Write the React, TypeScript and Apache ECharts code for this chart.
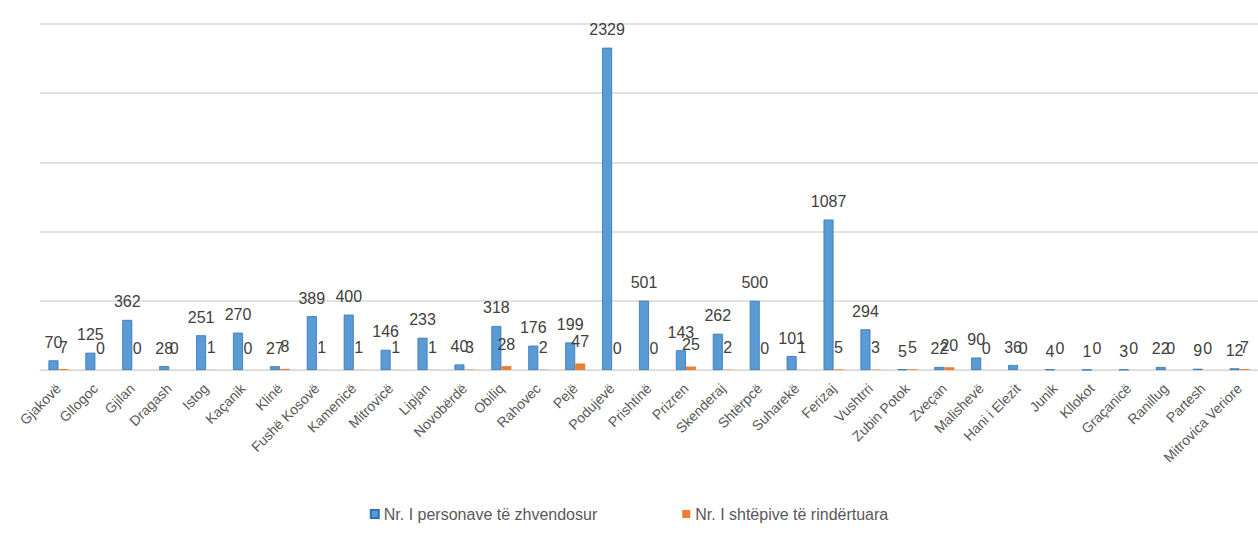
import React, { useEffect, useRef } from "react";
import * as echarts from "echarts";

const categories = [
  "Gjakovë", "Gllogoc", "Gjilan", "Dragash", "Istog", "Kaçanik", "Klinë",
  "Fushë Kosovë", "Kamenicë", "Mitrovicë", "Lipjan", "Novobërdë", "Obiliq",
  "Rahovec", "Pejë", "Podujevë", "Prishtinë", "Prizren", "Skenderaj",
  "Shtërpcë", "Suharekë", "Ferizaj", "Vushtrri", "Zubin Potok", "Zveçan",
  "Malishevë", "Hani i Elezit", "Junik", "Kllokot", "Graçanicë", "Ranillug",
  "Partesh", "Mitrovica Veriore",
];

const displaced = [
  70, 125, 362, 28, 251, 270, 27, 389, 400, 146, 233, 40, 318, 176, 199,
  2329, 501, 143, 262, 500, 101, 1087, 294, 5, 22, 90, 36, 4, 1, 3, 22, 9, 12,
];

const rebuilt = [
  7, 0, 0, 0, 1, 0, 8, 1, 1, 1, 1, 3, 28, 2, 47, 0, 0, 25, 2, 0, 1, 5, 3, 5,
  20, 0, 0, 0, 0, 0, 0, 0, 7,
];

const seriesNames = ["Nr. I personave të zhvendosur", "Nr. I shtëpive të rindërtuara"];

const yTicks = [0, 500, 1000, 1500, 2000, 2500];

export default function App() {
  const ref = useRef<HTMLDivElement>(null);
  useEffect(() => {
    if (!ref.current) return;
    const chart = echarts.init(ref.current, undefined, { renderer: "svg" });
    const font = "'Liberation Sans', Arial, sans-serif";
    chart.setOption({
      animation: false,
      backgroundColor: "#ffffff",
      textStyle: { fontFamily: font },
      legend: {
        bottom: 23,
        left: "center",
        itemWidth: 8,
        itemHeight: 8,
        itemGap: 85,
        icon: "rect",
        textStyle: { color: "#595959", fontSize: 16, fontFamily: font },
        data: seriesNames,
      },
      grid: { left: 40, width: 1226, top: 24, bottom: 180, containLabel: false },
      xAxis: {
        type: "category",
        data: categories,
        axisTick: { show: false },
        axisLine: { show: true, lineStyle: { color: "#d9d9d9", width: 1 } },
        axisLabel: {
          rotate: 45,
          interval: 0,
          color: "#595959",
          fontSize: 14,
          fontFamily: font,
          margin: 16,
        },
      },
      yAxis: {
        type: "value",
        min: yTicks[0],
        max: yTicks[yTicks.length - 1],
        interval: 500,
        axisLabel: { show: false },
        axisLine: { show: false },
        axisTick: { show: false },
        splitLine: { lineStyle: { color: "#d9d9d9", width: 1.5 } },
      },
      series: [
        {
          name: seriesNames[0],
          type: "bar",
          data: displaced,
          barWidth: 10,
          barGap: "0%",
          itemStyle: { color: "#5b9bd5", borderColor: "#2e75b6", borderWidth: 0.8 },
          label: {
            show: true,
            position: "top",
            distance: 10,
            color: "#404040",
            fontSize: 16,
            fontFamily: font,
          },
        },
        {
          name: seriesNames[1],
          type: "bar",
          data: rebuilt,
          barWidth: 10,
          itemStyle: { color: "#ed7d31" },
          label: {
            show: true,
            position: "top",
            distance: 14,
            color: "#404040",
            fontSize: 16,
            fontFamily: font,
          },
        },
      ],
    });
    return () => chart.dispose();
  }, []);
  return (
    <div
      ref={ref}
      style={{ position: "fixed", left: 0, top: 0, width: 1258, height: 550 }}
    />
  );
}
